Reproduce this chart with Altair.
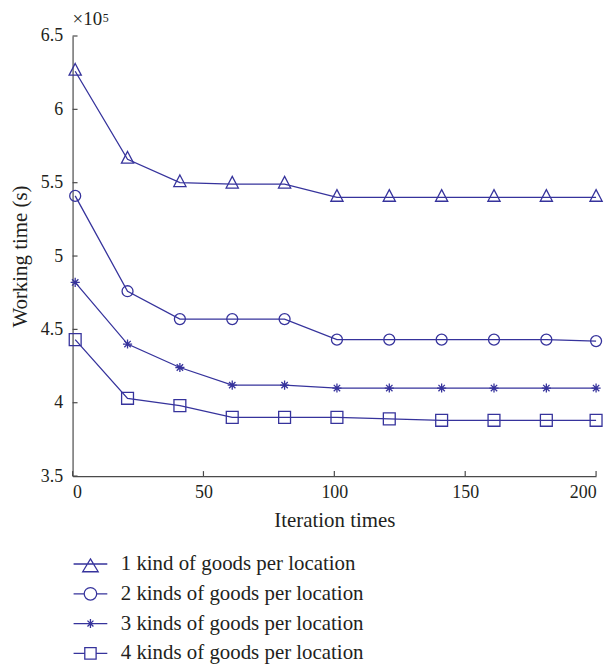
import altair as alt
import pandas as pd

# ---- data (values in units of 10^5 s) ----
iterations = [1, 21, 41, 61, 81, 101, 121, 141, 161, 181, 200]
series_names = [
    "1 kind of goods per location",
    "2 kinds of goods per location",
    "3 kinds of goods per location",
    "4 kinds of goods per location",
]
s1 = [6.26, 5.66, 5.50, 5.49, 5.49, 5.40, 5.40, 5.40, 5.40, 5.40, 5.40]
s2 = [5.41, 4.76, 4.57, 4.57, 4.57, 4.43, 4.43, 4.43, 4.43, 4.43, 4.42]
s3 = [4.82, 4.40, 4.24, 4.12, 4.12, 4.10, 4.10, 4.10, 4.10, 4.10, 4.10]
s4 = [4.43, 4.03, 3.98, 3.90, 3.90, 3.90, 3.89, 3.88, 3.88, 3.88, 3.88]
x_ticks = [0, 50, 100, 150, 200]
y_ticks = [3.5, 4.0, 4.5, 5.0, 5.5, 6.0, 6.5]

rows = []
for name, vals in zip(series_names, [s1, s2, s3, s4]):
    for it, v in zip(iterations, vals):
        rows.append({"iter": it, "val": v, "series": name})
df = pd.DataFrame(rows)

COLOR = "#36339c"
AXIS = "#4a4a4a"
TEXT = "#231f20"
FONT = "Liberation Serif"
W, H = 527, 443

# marker shapes for the plot
chart_paths = [
    "M0,-1.36L1.07,0.68L-1.07,0.68Z",
    "M0.96,0A0.96,0.96,0,1,1,-0.96,0A0.96,0.96,0,1,1,0.96,0Z",
    "M0,-0.8V0.8M-0.8,0H0.8M-0.56,-0.56L0.56,0.56M-0.56,0.56L0.56,-0.56",
    "M-1.04,-1.04H1.04V1.04H-1.04Z",
]
# legend symbols: line through marker
legend_paths = [
    "M-2.83,0H2.83M0,-0.85L1.3,1.3L-1.3,1.3Z",
    "M-2.83,0H-1.05M1.05,0H2.83M1.05,0A1.05,1.05,0,1,1,-1.05,0A1.05,1.05,0,1,1,1.05,0Z",
    "M-2.83,0H2.83M0,-0.75V0.75M-0.5,-0.5L0.5,0.5M-0.5,0.5L0.5,-0.5",
    "M-2.83,0H-0.95M0.95,0H2.83M-0.95,-0.97H0.95V0.97H-0.95Z",
]

xs = alt.Scale(domain=[0, 200], nice=False, zero=False)
ys = alt.Scale(domain=[3.5, 6.5], nice=False, zero=False)

x_enc = alt.X(
    "iter:Q", scale=xs,
    axis=alt.Axis(values=x_ticks, format="d", title="Iteration times", ticks=False,
                  grid=False, labelPadding=8, titlePadding=8,
                  labelFont=FONT, titleFont=FONT, labelFontSize=18, titleFontSize=21),
)
y_enc = alt.Y(
    "val:Q", scale=ys,
    axis=alt.Axis(values=y_ticks, format=".1~f", title="Working time (s)", ticks=False,
                  grid=False, labelPadding=10, titlePadding=10,
                  labelFont=FONT, titleFont=FONT, labelFontSize=18, titleFontSize=21),
)

lines = alt.Chart(df).mark_line(color=COLOR, strokeWidth=1.3).encode(
    x=x_enc, y=y_enc, detail="series:N"
)

points = alt.Chart(df).mark_point(filled=False, color=COLOR, strokeWidth=1.3, size=132, opacity=1).encode(
    x="iter:Q", y="val:Q",
    shape=alt.Shape("series:N", scale=alt.Scale(domain=series_names, range=chart_paths), legend=None),
)

legend_layer = alt.Chart(df).mark_point(filled=False, color=COLOR, strokeWidth=1.3, opacity=0).encode(
    x="iter:Q", y="val:Q",
    shape=alt.Shape(
        "legend:N",
        scale=alt.Scale(domain=series_names, range=legend_paths),
        legend=alt.Legend(
            title=None, orient="none", legendX=0, legendY=521, direction="vertical",
            padding=0, symbolSize=144, symbolOffset=7.5, labelOffset=20,
            rowPadding=8, labelFontSize=21, labelFont=FONT, labelColor=TEXT,
            symbolStrokeColor=COLOR, symbolStrokeWidth=1.3, symbolOpacity=1,
            symbolFillColor="transparent", labelLimit=400,
        ),
    ),
).transform_calculate(legend="datum.series")

xt_df = pd.DataFrame({"v": x_ticks})
yt_df = pd.DataFrame({"v": y_ticks})
xticks = alt.Chart(xt_df).mark_rule(color=AXIS, strokeWidth=1.2).encode(
    x=alt.X("v:Q", scale=xs), y=alt.value(H), y2=alt.value(H - 5)
)
yticks = alt.Chart(yt_df).mark_rule(color=AXIS, strokeWidth=1.2).encode(
    y=alt.Y("v:Q", scale=ys), x=alt.value(0), x2=alt.value(5)
)

exp_df = pd.DataFrame({"t": ["×10"], "s": ["5"]})
exp_main = alt.Chart(exp_df).mark_text(
    align="left", baseline="alphabetic", font=FONT, fontSize=19, color=TEXT
).encode(text="t:N", x=alt.value(0), y=alt.value(-10.7))
exp_sup = alt.Chart(exp_df).mark_text(
    align="left", baseline="alphabetic", font=FONT, fontSize=12, color=TEXT
).encode(text="s:N", x=alt.value(30.5), y=alt.value(-14))

chart = (
    alt.layer(lines, points, legend_layer, xticks, yticks, exp_main, exp_sup)
    .resolve_scale(shape="independent")
    .properties(
        width=W, height=H,
        autosize=alt.AutoSizeParams(type="none"),
        padding={"left": 65, "top": 26, "right": 12, "bottom": 188},
    )
    .configure_view(stroke=None)
    .configure_text(font=FONT)
    .configure_axis(
        domainColor=AXIS, domainWidth=1.2, labelFont=FONT, titleFont=FONT,
        labelFontSize=18, titleFontSize=21, labelColor=TEXT, titleColor=TEXT,
        titleFontWeight="normal",
    )
)

chart.save("out.html", embed_options={"renderer": "svg", "actions": False})
